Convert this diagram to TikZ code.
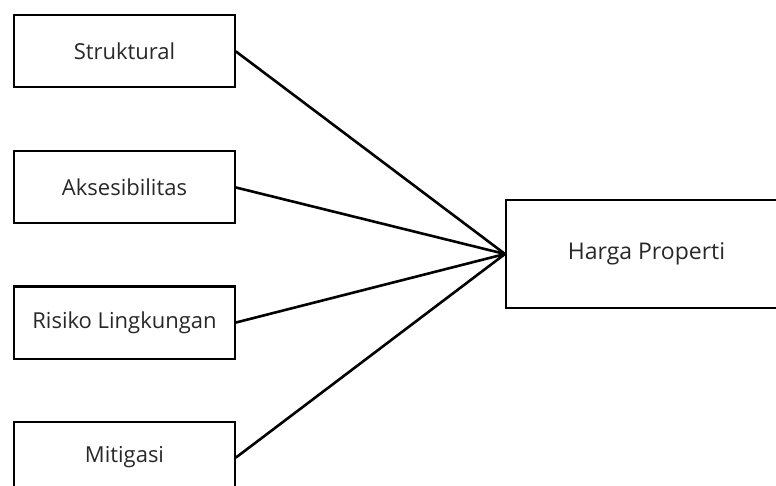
\documentclass[tikz,border=0pt]{standalone}
\usepackage{fontspec}
\setmainfont{Open Sans}
\usepackage{tikz}
\definecolor{text_gray}{RGB}{40,40,40}

\begin{document}
\begin{tikzpicture}[x=1pt,y=-1pt,semithick]
    \tikzstyle{var}=[draw=black, line width=2pt, rectangle, minimum width=221pt, minimum height=72pt, fill=none, text=text_gray, font=\fontsize{22}{24}\selectfont]
    \tikzstyle{target}=[var, minimum width=281pt, minimum height=108pt, font=\fontsize{23}{25}\selectfont]
    \tikzstyle{link}=[line width=2.6pt, line cap=round]

    \useasboundingbox (0,0) rectangle (776,486);
    \clip (0,0) rectangle (776,486);

    \node[var] (str) at (124.5,51.5)  {Struktural};
    \node[var] (aks) at (124.5,187.5) {Aksesibilitas};
    \node[var] (ris) at (124.5,322.5) {Risiko Lingkungan};
    \node[var] (mit) at (124.5,457.5) {Mitigasi};
    \node[target] (hp) at (646.5,254) {Harga Properti};
    \path[link]
     (str.east) edge[] (hp.west)
     (aks.east) edge[] (hp.west)
     (ris.east) edge[] (hp.west)
     (mit.east) edge[] (hp.west)
     ;
  \end{tikzpicture}
\end{document}
